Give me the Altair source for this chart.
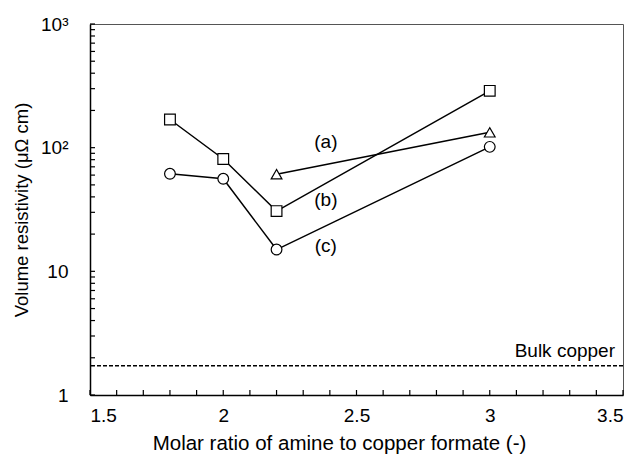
import altair as alt
import pandas as pd

# ---- data ----
x_a = [2.2, 3.0]
y_a = [61, 133]
x_b = [1.8, 2.0, 2.2, 3.0]
y_b = [169, 81, 30.7, 288]
x_c = [1.8, 2.0, 2.2, 3.0]
y_c = [61.5, 56, 15, 101.5]
bulk_copper = 1.72

label_text = ["(a)", "(b)", "(c)"]
label_x = [2.385, 2.385, 2.385]
label_y = [112, 37.7, 16]

bulk_label = "Bulk copper"
bulk_label_x = 3.47
bulk_label_y = 2.28

x_major = [1.5, 2.0, 2.5, 3.0, 3.5]
x_minor = [1.6, 1.7, 1.8, 1.9, 2.1, 2.2, 2.3, 2.4, 2.6, 2.7, 2.8, 2.9,
           3.1, 3.2, 3.3, 3.4]
y_major = [1, 10, 100, 1000]
y_minor = [2, 3, 4, 5, 6, 7, 8, 9, 20, 30, 40, 50, 60, 70, 80, 90,
           200, 300, 400, 500, 600, 700, 800, 900]

rows = []
for s, xs_, ys_ in (("a", x_a, y_a), ("b", x_b, y_b), ("c", x_c, y_c)):
    for xv, yv in zip(xs_, ys_):
        rows.append({"series": s, "x": xv, "y": yv})
df = pd.DataFrame(rows)

FONT = "Liberation Sans"
W, H = 533, 371

xscale = alt.Scale(domain=[1.5, 3.5], nice=False, zero=False)
yscale = alt.Scale(type="log", domain=[1, 1000], nice=False)

xaxis = alt.Axis(values=x_major, labelExpr="format(datum.value, '~g')",
                 grid=False, ticks=False, labelPadding=11, titlePadding=8,
                 domainColor="black", domainWidth=1.5, titleFontSize=20.5,
                 titleX=249, titleAlign="center",
                 title="Molar ratio of amine to copper formate (-)")
yaxis = alt.Axis(values=y_major,
                 labelExpr="datum.value >= 1000 ? '10³' : datum.value >= 100 ? '10²' : datum.value >= 10 ? '10' : '1'",
                 grid=False, ticks=False, labelPadding=22, titlePadding=9,
                 domainColor="black", domainWidth=1.5, titleFontSize=18.5,
                 title="Volume resistivity (μΩ cm)")

X = alt.X("x:Q", scale=xscale, axis=xaxis)
Y = alt.Y("y:Q", scale=yscale, axis=yaxis)

base = alt.Chart(df)

lines = base.mark_line(color="black", strokeWidth=1.5).encode(
    x=X, y=Y, detail="series:N")

points = base.mark_point(filled=True, fill="white", stroke="black",
                         strokeWidth=1.2, size=115, opacity=1).encode(
    x=X, y=Y,
    shape=alt.Shape("series:N", legend=None,
                    scale=alt.Scale(domain=["a", "b", "c"],
                                    range=["triangle-up", "square", "circle"])))

bulk = alt.Chart(pd.DataFrame({"y": [bulk_copper]})).mark_rule(
    color="black", strokeWidth=1.5, strokeDash=[4, 2]).encode(y=Y)

labels = alt.Chart(pd.DataFrame({"x": label_x, "y": label_y, "t": label_text})).mark_text(
    font=FONT, fontSize=19, color="black", align="center", baseline="middle").encode(
    x=X, y=Y, text="t:N")

bulk_text = alt.Chart(pd.DataFrame({"x": [bulk_label_x], "y": [bulk_label_y], "t": [bulk_label]})).mark_text(
    font=FONT, fontSize=19, color="black", align="right", baseline="middle").encode(
    x=X, y=Y, text="t:N")

xticks = alt.Chart(pd.DataFrame({"x": x_major + x_minor})).mark_rule(
    color="black", strokeWidth=1.2).encode(
    x=X, y=alt.value(H), y2=alt.value(H - 5))

yticks = alt.Chart(pd.DataFrame({"y": y_major + y_minor})).mark_rule(
    color="black", strokeWidth=1.2).encode(
    y=Y, x=alt.value(0), x2=alt.value(5))

chart = alt.layer(bulk, xticks, yticks, lines, points, labels, bulk_text).properties(
    width=W, height=H,
    autosize=alt.AutoSizeParams(type="none"),
    padding={"left": 90, "top": 24, "right": 17, "bottom": 61},
    background="white",
).configure_view(
    stroke="#555", strokeWidth=1
).configure_axis(
    labelFont=FONT, labelFontSize=19, labelColor="black",
    titleFont=FONT, titleFontWeight="normal", titleColor="black"
)

chart.save("out.html", embed_options={"renderer": "svg", "actions": False})
